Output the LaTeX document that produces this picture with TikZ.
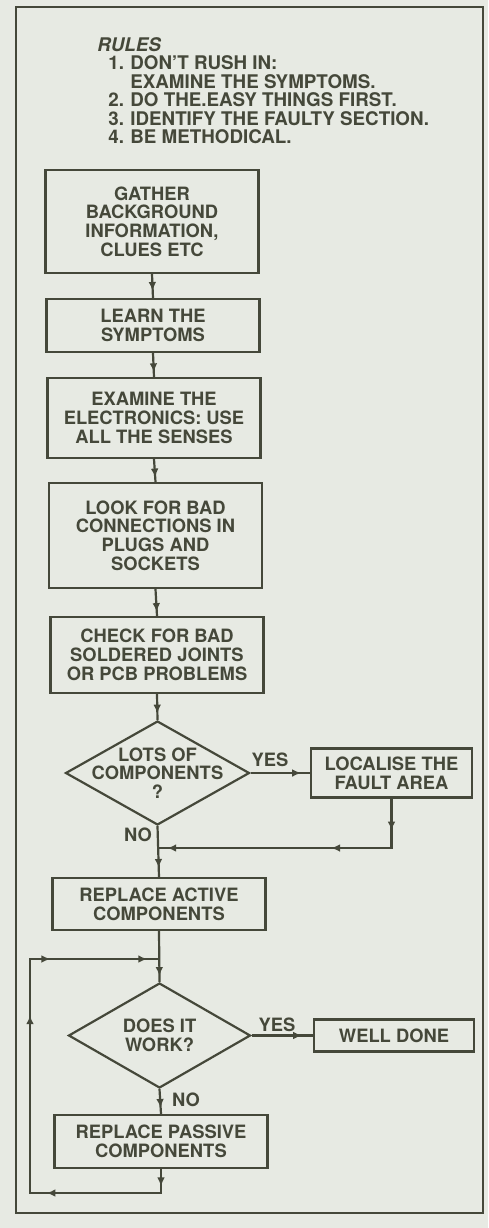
\documentclass[tikz,border=0pt]{standalone}
\usepackage{fontspec}
\setmainfont{TeX Gyre Heros}
\usetikzlibrary{arrows.meta, positioning, shapes.geometric, decorations.markings}
\definecolor{paper}{HTML}{E7EAE3}
\definecolor{ink}{HTML}{45483A}
\tikzset{
  box/.style={draw=ink, line width=1.25pt, minimum width=4.26cm, align=center, inner sep=2pt},
  dia/.style={draw=ink, line width=1.25pt, diamond, inner sep=0pt},
  flow/.style={draw=ink, line width=1.25pt},
  tipat/.style={postaction={decorate, decoration={markings,
      mark=at position #1 with {\arrow[ink]{Latex[length=5pt,width=4.4pt]}}}}}
}

\begin{document}
\begin{tikzpicture}[x=0.02cm, y=-0.02cm,
    every node/.style={text=ink, font=\fontsize{10.45}{10.7}\selectfont\bfseries}]
    % paper and frame
    \useasboundingbox[fill=paper] (0,0) rectangle (488,1228);
    \draw[ink, line width=1.25pt] (16,7) rectangle (483,1213);

    % rules
    \node[anchor=north west, align=left, inner sep=0pt,
          font=\fontsize{10.7}{10.5}\selectfont\bfseries] (rules) at (97,37)
      {\textit{RULES}\\
       \hspace*{0.22cm}\makebox[0.44cm][l]{1.}DON'T RUSH IN:\\
       \hspace*{0.66cm}EXAMINE THE SYMPTOMS.\\
       \hspace*{0.22cm}\makebox[0.44cm][l]{2.}DO THE.EASY THINGS FIRST.\\
       \hspace*{0.22cm}\makebox[0.44cm][l]{3.}IDENTIFY THE FAULTY SECTION.\\
       \hspace*{0.22cm}\makebox[0.44cm][l]{4.}BE METHODICAL.};

    % boxes
    \node[box, minimum height=2.06cm] (gather) at (152,221.5) {GATHER\\BACKGROUND\\INFORMATION,\\CLUES ETC};
    \node[box, minimum height=1.06cm] (learn) at (153,325.5) {LEARN THE\\SYMPTOMS};
    \node[box, minimum height=1.6cm] (senses) at (154,418) {EXAMINE THE\\ELECTRONICS: USE\\ALL THE SENSES};
    \node[box, minimum height=2.1cm] (plugs) at (155.5,535.5) {LOOK FOR BAD\\CONNECTIONS IN\\PLUGS AND\\SOCKETS};
    \node[box, minimum height=1.52cm] (joints) at (157,655) {CHECK FOR BAD\\SOLDERED JOINTS\\OR PCB PROBLEMS};
    \node[dia, minimum width=3.68cm, minimum height=2.08cm,
          label={[align=center]center:LOTS OF\\COMPONENTS\\?}] (lots) at (157.5,773) {};
    \node[box, minimum width=3.22cm, minimum height=0.98cm] (localise) at (391.5,773) {LOCALISE THE\\FAULT AREA};
    \node[box, minimum height=1.04cm] (active) at (159,904) {REPLACE ACTIVE\\COMPONENTS};
    \node[dia, minimum width=3.64cm, minimum height=2.1cm,
          label={[align=center]center:DOES IT\\WORK?}] (works) at (159.5,1035.5) {};
    \node[box, minimum width=3.2cm, minimum height=0.64cm] (welldone) at (394,1035.5) {WELL DONE};
    \node[box, minimum height=1.06cm] (passive) at (161,1141.5) {REPLACE PASSIVE\\COMPONENTS};

    % yes / no
    \node (yes1) at (270,760) {YES};
    \node (no1) at (138,835) {NO};
    \node (yes2) at (277,1025) {YES};
    \node (no2) at (186,1100) {NO};

    % joins
    \coordinate (merge) at (157.5,848);
    \coordinate (loopin) at (159,959);
    \coordinate (loopcorner) at (30,1193);

    % arrows
    \draw[flow, tipat=0.7] (gather.south) -- (learn.north);
    \draw[flow, tipat=0.8] (learn.south) -- (senses.north);
    \draw[flow, tipat=0.8] (senses.south) -- (plugs.north);
    \draw[flow, tipat=0.85] (plugs.south) -- (joints.north);
    \draw[flow, tipat=0.75] (joints.south) -- (lots.north);
    \draw[flow, tipat=0.85] (lots.east) -- (localise.west);
    \draw[flow, tipat=0.112, tipat=0.387, tipat=0.965] (localise.south) |- (merge);
    \draw[flow, tipat=0.82] (lots.south) -- (active.north);
    \draw[flow, tipat=0.88] (active.south) -- (works.north);
    \draw[flow, tipat=0.82] (works.east) -- (welldone.west);
    \draw[flow, tipat=0.75] (works.south) -- (passive.north);
    \draw[flow, tipat=0.033, tipat=0.267, tipat=0.642, tipat=0.79, tipat=0.977]
        (passive.south) |- (loopcorner) |- (loopin);
\end{tikzpicture}
\end{document}
